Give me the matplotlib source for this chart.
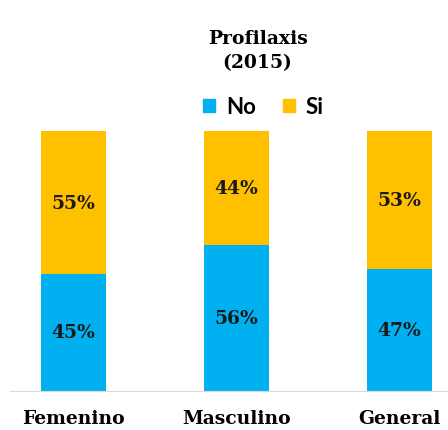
import numpy as np
import matplotlib.pyplot as plt
from matplotlib.patches import Patch

categories = ['Femenino', 'Masculino', 'General']
no_vals = [45, 56, 47]
si_vals = [55, 44, 53]

blue = '#00B0F0'
orange = '#FFC000'
serif = 'DejaVu Serif'

fig = plt.figure(figsize=(4.48, 4.31), dpi=100)
ax = fig.add_axes([0.0, 0.0905, 1.0, 0.6032])

x = np.arange(len(categories))
no = np.array(no_vals) / 100
si = np.array(si_vals) / 100
ax.bar(x, no, width=0.4, color=blue, label='No')
ax.bar(x, si, width=0.4, bottom=no, color=orange, label='Si')

for i in range(len(categories)):
    ax.text(x[i], no[i] / 2, '%d%%' % no_vals[i], ha='center', va='center',
            fontsize=13.5, fontweight='bold', family=serif, color='#1a1a1a')
    ax.text(x[i], no[i] + si[i] / 2, '%d%%' % si_vals[i], ha='center', va='center',
            fontsize=13.5, fontweight='bold', family=serif, color='#1a1a1a')

ax.set_xlim((0 - 73.5) / 163, (448 - 73.5) / 163)
ax.set_ylim(0, 1)
ax.set_xticks(x)
ax.set_xticklabels(categories, fontsize=13.5, fontweight='bold', family=serif)
ax.tick_params(axis='x', length=0, pad=13)
ax.set_yticks([])
for s in ['top', 'right', 'left']:
    ax.spines[s].set_visible(False)
ax.spines['bottom'].set_color('#d9d9d9')
ax.spines['bottom'].set_bounds((10 - 73.5) / 163, (448 - 73.5) / 163)

fig.text(0.575, 1 - 39 / 431, 'Profilaxis', ha='center', va='center',
         fontsize=13.5, fontweight='bold', family=serif)
fig.text(0.575, 1 - 63 / 431, '(2015)', ha='center', va='center',
         fontsize=13.5, fontweight='bold', family=serif)

handles = [Patch(color=blue, label='No'), Patch(color=orange, label='Si')]
fig.legend(handles=handles, loc='center', bbox_to_anchor=(0.588, 1 - 108 / 431),
           ncol=2, frameon=False, prop={'family': 'Lato', 'weight': 'bold', 'size': 16},
           handlelength=0.55, handleheight=0.55, handletextpad=0.5, columnspacing=1.2)

fig.savefig('out.png', dpi=100)
